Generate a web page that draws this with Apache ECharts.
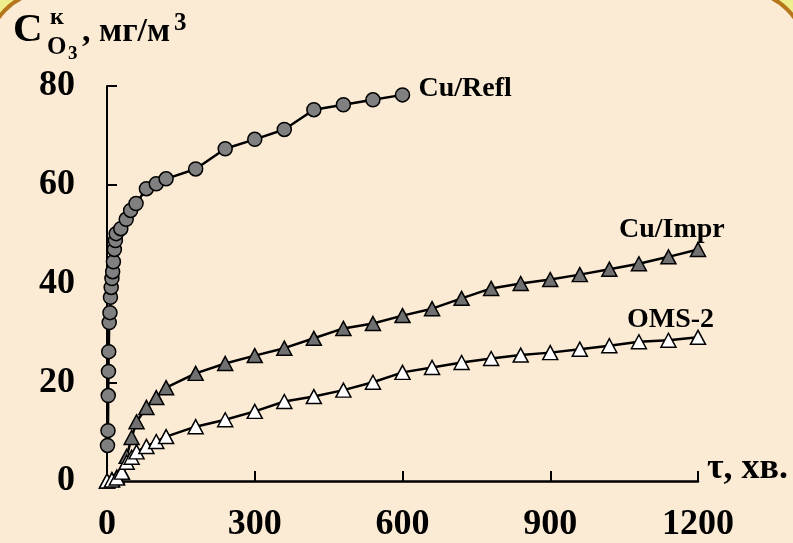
<!DOCTYPE html>
<html>
<head>
<meta charset="utf-8">
<script src="https://cdn.jsdelivr.net/npm/echarts@6/dist/echarts.min.js"></script>
<style>
  html, body { margin: 0; padding: 0; }
  #chart { width: 793px; height: 543px; }
</style>
</head>
<body>
<div id="chart"></div>
<script>
// time, min
const reflTime = [1, 2, 2.5, 3, 3.5, 4.5, 6, 7, 8.5, 10, 11.5, 13, 15, 17, 18.5, 28, 39, 48, 59, 80, 100, 120, 180, 240, 300, 360, 420, 480, 540, 600]
const reflConc = [7.2, 10.2, 17.3, 22.2, 26.2, 32.1, 34.1, 37.2, 39.2, 41, 42.4, 44.4, 46.9, 48.7, 50.1, 51.1, 53, 54.8, 56.2, 59.2, 60.2, 61.2, 63.2, 67.3, 69.2, 71.2, 75.2, 76.2, 77.2, 78.2]

const imprTime = [0, 10, 20, 30, 40, 50, 60, 80, 100, 120, 180, 240, 300, 360, 420, 480, 540, 600, 660, 720, 780, 840, 900, 960, 1020, 1080, 1140, 1200]
const imprConc = [0, 0.3, 0.8, 1.8, 5, 8.8, 12, 14.9, 16.9, 18.9, 21.8, 23.8, 25.4, 26.9, 28.9, 30.9, 31.9, 33.5, 34.9, 37, 39, 40, 40.8, 41.8, 42.9, 44, 45.4, 46.9]

const omsTime = [0, 10, 20, 30, 40, 50, 60, 80, 100, 120, 180, 240, 300, 360, 420, 480, 540, 600, 660, 720, 780, 840, 900, 960, 1020, 1080, 1140, 1200]
const omsConc = [0, 0.2, 0.6, 1.8, 3.8, 4.8, 5.9, 7, 8, 9, 11, 12.4, 14.1, 16.1, 17.1, 18.4, 20, 22, 23, 24, 24.8, 25.5, 26, 26.7, 27.4, 28.2, 28.5, 29.1]

const FONT = 'Liberation Serif'

function pairs (xs, ys) {
  return xs.map((x, i) => [x, ys[i]])
}

function makeSeries (name, xs, ys, symbol, size, fill, labelOffset) {
  return {
    name: name,
    type: 'line',
    data: pairs(xs, ys),
    symbol: symbol,
    symbolSize: size,
    showAllSymbol: true,
    smooth: false,
    lineStyle: { color: '#000', width: 2.5 },
    itemStyle: { color: fill, borderColor: '#000', borderWidth: 1.5 },
    endLabel: {
      show: true,
      formatter: name,
      fontFamily: FONT,
      fontWeight: 'bold',
      fontSize: 28,
      color: '#000',
      offset: labelOffset
    },
    emphasis: { disabled: true },
    animation: false
  }
}

const chart = echarts.init(document.getElementById('chart'))

const titleText = (text, x, y, size) => ({
  type: 'text',
  left: x,
  top: y,
  style: {
    text: text,
    fontFamily: FONT,
    fontWeight: 'bold',
    fontSize: size,
    fill: '#000'
  },
  z: 10
})

chart.setOption({
  backgroundColor: '#EFEE8C',
  animation: false,
  graphic: [
    {
      type: 'rect',
      shape: { x: -12, y: -8, width: 817, height: 580, r: 60 },
      style: { fill: '#FCEBD4', stroke: '#B5761C', lineWidth: 4 },
      z: -10,
      silent: true
    },
    titleText('C', 13, 10, 41),
    titleText('к', 50, 6, 24),
    titleText('O', 47, 35, 25),
    titleText('3', 68, 45, 19),
    titleText(', мг/м', 82, 15, 34),
    titleText('3', 174, 11, 25)
  ],
  grid: { left: 107, right: 95, top: 86, bottom: 61 },
  xAxis: {
    type: 'value',
    min: 0,
    max: 1200,
    interval: 300,
    name: 'τ, хв.',
    nameLocation: 'end',
    nameGap: 9,
    nameTextStyle: {
      fontFamily: FONT,
      fontWeight: 'bold',
      fontSize: 36,
      lineHeight: 24,
      color: '#000',
      align: 'left',
      verticalAlign: 'bottom'
    },
    axisLine: { lineStyle: { color: '#000', width: 2.5 } },
    axisTick: { inside: true, length: 10, lineStyle: { color: '#000', width: 2 } },
    axisLabel: {
      fontFamily: FONT, fontWeight: 'bold', fontSize: 36, color: '#000', margin: 26,
      formatter: v => String(v)
    },
    splitLine: { show: false }
  },
  yAxis: {
    type: 'value',
    min: 0,
    max: 80,
    interval: 20,
    axisLine: { show: true, lineStyle: { color: '#000', width: 2 } },
    axisTick: { show: true, inside: true, length: 10, lineStyle: { color: '#000', width: 2 } },
    axisLabel: {
      fontFamily: FONT, fontWeight: 'bold', fontSize: 36, color: '#000', margin: 32,
      formatter: v => String(v)
    },
    splitLine: { show: false }
  },
  series: [
    makeSeries('Cu/Refl', reflTime, reflConc, 'circle', 14, '#808080', [8, -6]),
    makeSeries('Cu/Impr', imprTime, imprConc, 'triangle', [15, 14], '#707070', [-87, -20]),
    makeSeries('OMS-2', omsTime, omsConc, 'triangle', [15, 14], '#FFFFFF', [-79, -18])
  ]
})
</script>
</body>
</html>
